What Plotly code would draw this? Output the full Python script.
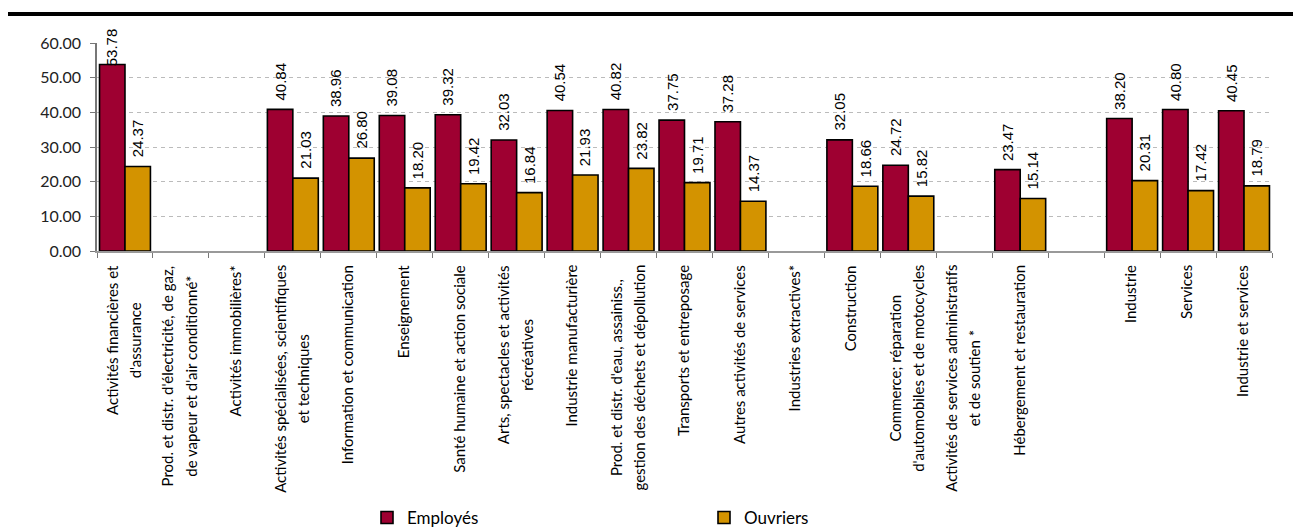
import plotly.graph_objects as go

# Sector labels (line breaks mark the wrapped second line)
categories = [
    "Activités financières et\nd'assurance",
    "Prod. et distr. d'électricité, de gaz,\nde vapeur et d'air conditionné*",
    "Activités immobilières*",
    "Activités spécialisées, scientifiques\net techniques",
    "Information et communication",
    "Enseignement",
    "Santé humaine et action sociale",
    "Arts, spectacles et activités\nrécréatives",
    "Industrie manufacturière",
    "Prod. et distr. d'eau, assainiss.,\ngestion des déchets et dépollution",
    "Transports et entreposage",
    "Autres activités de services",
    "Industries extractives*",
    "Construction",
    "Commerce; réparation\nd'automobiles et de motocycles",
    "Activités de services administratifs\net de soutien *",
    "Hébergement et restauration",
    "",
    "Industrie",
    "Services",
    "Industrie et services",
]

employes = [53.78, None, None, 40.84, 38.96, 39.08, 39.32, 32.03, 40.54, 40.82,
            37.75, 37.28, None, 32.05, 24.72, None, 23.47, None, 38.20, 40.80, 40.45]
ouvriers = [24.37, None, None, 21.03, 26.80, 18.20, 19.42, 16.84, 21.93, 23.82,
            19.71, 14.37, None, 18.66, 15.82, None, 15.14, None, 20.31, 17.42, 18.79]

series = [("Employés", employes, "#9E0031"), ("Ouvriers", ouvriers, "#D39300")]

y_ticks = [0, 10, 20, 30, 40, 50, 60]

# unique category keys for the axis
x_keys = [c.replace("\n", " ") if c else "\u00a0" for c in categories]

W, H = 1293, 528
M_L, M_R, M_T, M_B = 97, 21, 43, 277
PLOT_W = W - M_L - M_R
PLOT_H = H - M_T - M_B
BARGAP = 0.09
cat_px = PLOT_W / len(categories)
bar_px = cat_px * (1 - BARGAP) / 2
px_per_unit = PLOT_H / (y_ticks[-1] - y_ticks[0])

LABEL_FONT = "Lato, Open Sans, sans-serif"

fig = go.Figure()
for name, vals, col in series:
    fig.add_trace(go.Bar(
        x=x_keys, y=vals, name=name,
        marker=dict(color=col, line=dict(color="#000000", width=1.6)),
        hoverinfo="skip",
    ))

annotations = []
# value labels above each bar, rotated
LABEL_GAP = 7
LABEL_LEN = 39
TOP_LIMIT = 29  # highest pixel row a label may reach
for i, (name, vals, col) in enumerate(series):
    dx = (i - 0.5) * bar_px
    for key, v in zip(x_keys, vals):
        if v is None:
            continue
        bar_top = M_T + PLOT_H - v * px_per_unit
        avail = bar_top - TOP_LIMIT
        shift = LABEL_GAP
        if avail < LABEL_GAP + LABEL_LEN:
            shift = LABEL_GAP - (LABEL_GAP + LABEL_LEN - avail)
        annotations.append(dict(
            x=key, y=v, xref="x", yref="y",
            text=f"{v:.2f}", textangle=-90, showarrow=False,
            xanchor="center", yanchor="bottom", xshift=dx, yshift=shift,
            font=dict(family="Liberation Sans, Arial", size=15, color="#000000"),
        ))

# category labels under the axis, rotated, wrapped lines centred
for key, cat in zip(x_keys, categories):
    if not cat:
        continue
    lines = cat.split("\n")
    txt = "<br>".join(f'<span style="font-size:15px">{ln}</span>' for ln in lines)
    annotations.append(dict(
        x=key, y=0, xref="x", yref="paper",
        text=txt, textangle=-90, showarrow=False, align="center",
        xanchor="center", yanchor="top", yshift=-12, xshift=-2,
        font=dict(family=LABEL_FONT, size=18, color="#000000"),
    ))

fig.update_layout(
    width=W, height=H,
    margin=dict(l=M_L, r=M_R, t=M_T, b=M_B, autoexpand=False),
    paper_bgcolor="#ffffff", plot_bgcolor="#ffffff",
    barmode="group", bargap=BARGAP, bargroupgap=0,
    annotations=annotations,
    shapes=[dict(
        type="line", xref="paper", yref="paper",
        x0=(8 - M_L) / PLOT_W, x1=(W - M_L) / PLOT_W,
        y0=(M_T + PLOT_H - 14) / PLOT_H, y1=(M_T + PLOT_H - 14) / PLOT_H,
        line=dict(color="#000000", width=4),
    )],
    legend=dict(
        orientation="h", x=(367 - M_L) / PLOT_W, xanchor="left",
        y=-(518 - M_T - PLOT_H) / PLOT_H, yanchor="middle",
        entrywidth=292, entrywidthmode="pixels",
        font=dict(family=LABEL_FONT, size=17, color="#000000"),
        bgcolor="rgba(0,0,0,0)",
    ),
    xaxis=dict(
        type="category", categoryorder="array", categoryarray=x_keys,
        showticklabels=False, ticks="outside", ticklen=5, tickcolor="#777777",
        tickson="boundaries", showline=True, linecolor="#999999", linewidth=1.5,
        showgrid=False, zeroline=False, fixedrange=True,
    ),
    yaxis=dict(
        range=[y_ticks[0], y_ticks[-1]], tickvals=y_ticks, tickformat=".2f",
        ticks="outside", ticklen=5, tickcolor="#777777",
        ticklabelstandoff=6,
        showline=True, linecolor="#777777", linewidth=1.5,
        showgrid=True, gridcolor="#bbbbbb", griddash="4px,4px", gridwidth=1,
        zeroline=False,
        tickfont=dict(family=LABEL_FONT, size=16, color="#222222"),
        fixedrange=True,
    ),
    showlegend=True,
)

fig.write_html("out.html")
